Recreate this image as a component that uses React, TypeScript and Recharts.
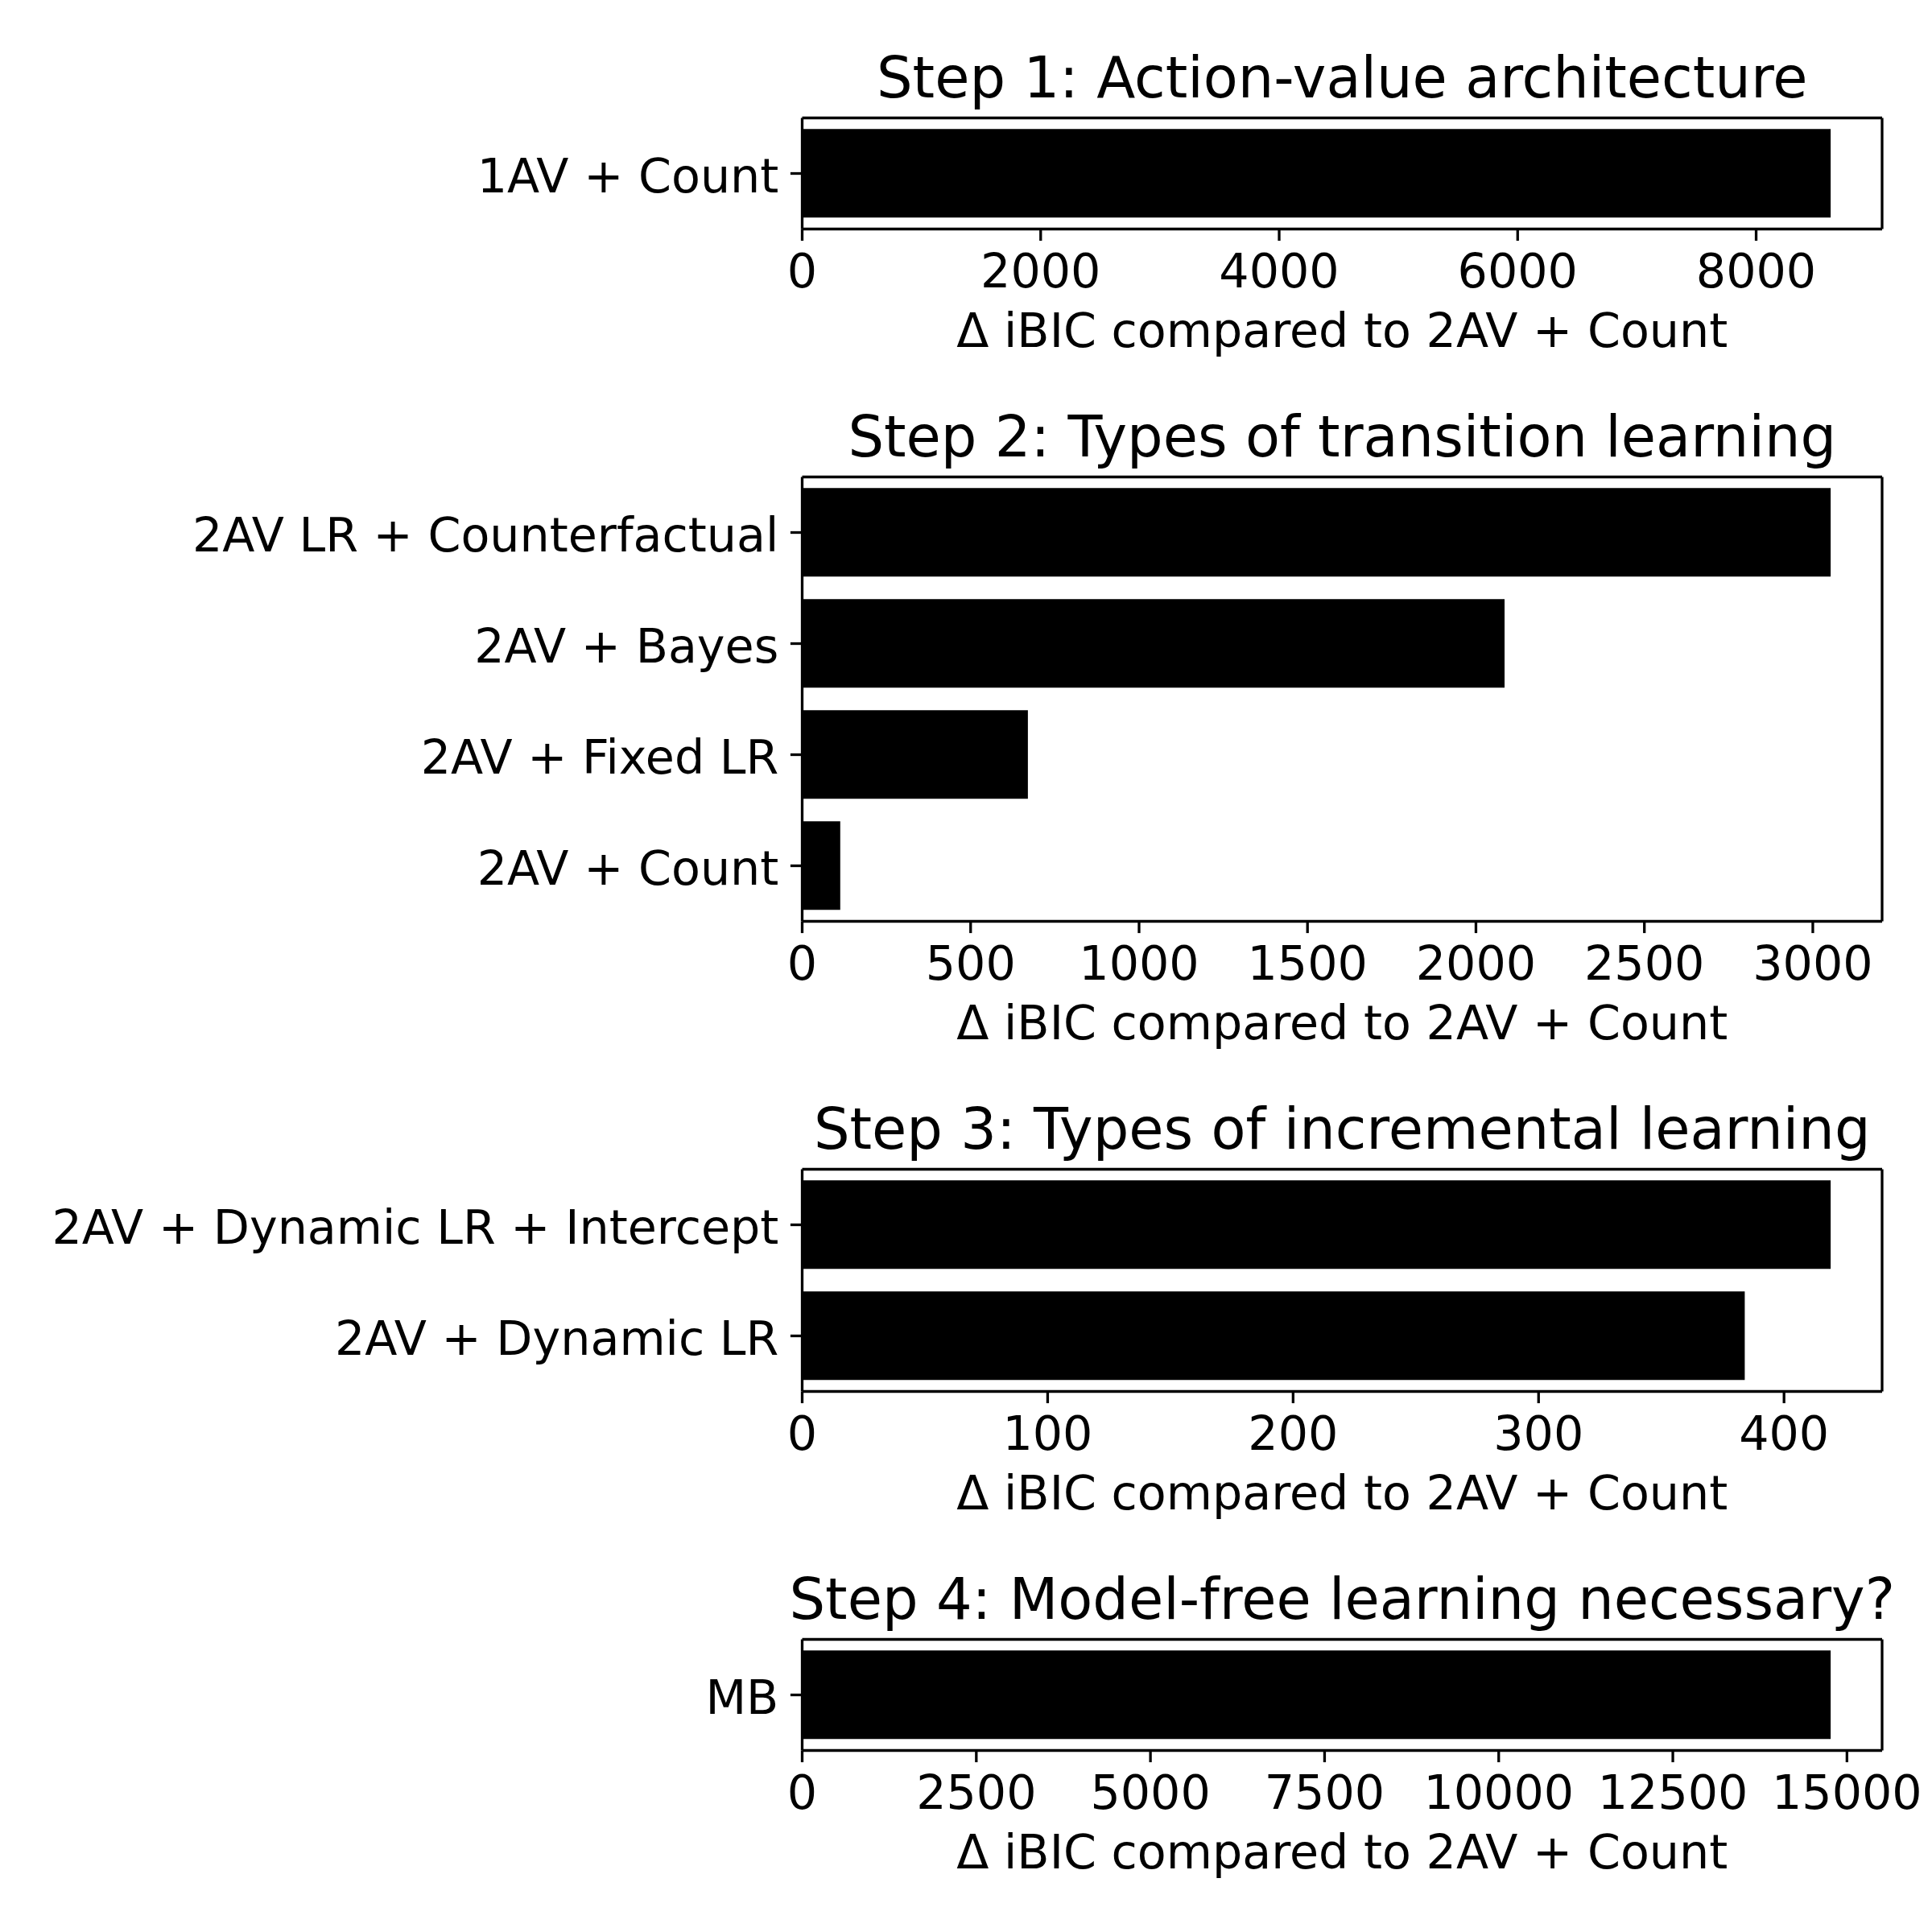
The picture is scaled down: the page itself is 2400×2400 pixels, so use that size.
import { Bar, BarChart, XAxis, YAxis } from "recharts"

const FONT = "'DejaVu Sans', sans-serif"
const X_LABEL = "Δ iBIC compared to 2AV + Count"

const step1Models = ["1AV + Count"]
const step1Values = [8625]
const step1Ticks = [0, 2000, 4000, 6000, 8000]

const step2Models = ["2AV LR + Counterfactual", "2AV + Bayes", "2AV + Fixed LR", "2AV + Count"]
const step2Values = [3053, 2085, 670, 113]
const step2Ticks = [0, 500, 1000, 1500, 2000, 2500, 3000]

const step3Models = ["2AV + Dynamic LR + Intercept", "2AV + Dynamic LR"]
const step3Values = [419, 384]
const step3Ticks = [0, 100, 200, 300, 400]

const step4Models = ["MB"]
const step4Values = [14766]
const step4Ticks = [0, 2500, 5000, 7500, 10000, 12500, 15000]

// layout (px)
const PAGE = 2400
const PLOT_LEFT = 996.5
const PLOT_RIGHT = 2338
const BAND = 138
const TOP_SPACE = 146.5
const XAXIS_H = 146.5
const LINE_W = 3.3
const TICK_LEN = 14.6
const FONT_SIZE = 58.7
const TITLE_SIZE = 70.3

const line = { stroke: "#000", strokeWidth: LINE_W }
const tickText = { fill: "#000", fontSize: FONT_SIZE, fontFamily: FONT }

type PanelProps = {
  title: string
  models: string[]
  values: number[]
  ticks: number[]
  plotTop: number
}

function Panel({ title, models, values, ticks, plotTop }: PanelProps) {
  const data = models.map((name, i) => ({ name, value: values[i] }))
  const domain = [0, Math.max(...values) * 1.05]
  const plotHeight = BAND * models.length
  const height = TOP_SPACE + plotHeight + XAXIS_H + 30

  return (
    <div style={{ position: "absolute", left: 0, top: plotTop - TOP_SPACE, width: PAGE, height }}>
      {/* title, centred on the plot area */}
      <div
        style={{
          position: "absolute",
          left: PLOT_LEFT - 400,
          width: PLOT_RIGHT - PLOT_LEFT + 800,
          top: TOP_SPACE - 25 - 59.4,
          textAlign: "center",
          whiteSpace: "nowrap",
          fontFamily: FONT,
          fontSize: TITLE_SIZE,
          lineHeight: `${TITLE_SIZE}px`,
          color: "#000",
        }}
      >
        {title}
      </div>
      <BarChart
        width={PAGE}
        height={height}
        data={data}
        layout="vertical"
        barCategoryGap="10%"
        margin={{ top: TOP_SPACE - 1, right: PAGE - PLOT_RIGHT - 1, bottom: 30, left: 0 }}
      >
        <XAxis
          type="number"
          domain={domain}
          ticks={ticks}
          interval={0}
          height={XAXIS_H}
          tickSize={TICK_LEN}
          tickMargin={16.7}
          axisLine={line}
          tickLine={line}
          tick={tickText}
          label={{ value: X_LABEL, position: "insideBottom", offset: 0, fill: "#000", fontSize: FONT_SIZE, fontFamily: FONT }}
        />
        <XAxis
          xAxisId="top"
          orientation="top"
          type="number"
          domain={domain}
          height={1}
          tick={false}
          tickLine={false}
          axisLine={line}
        />
        <YAxis
          type="category"
          dataKey="name"
          width={PLOT_LEFT}
          interval={0}
          tickSize={TICK_LEN}
          tickMargin={TICK_LEN}
          axisLine={line}
          tickLine={line}
          tick={{ ...tickText, dy: 2.3 }}
        />
        <YAxis
          yAxisId="right"
          orientation="right"
          type="category"
          dataKey="name"
          width={1}
          tick={false}
          tickLine={false}
          axisLine={line}
        />
        <Bar dataKey="value" fill="#000" isAnimationActive={false} />
      </BarChart>
    </div>
  )
}

export default function App() {
  return (
    <div style={{ position: "absolute", left: 0, top: 0, width: PAGE, height: PAGE, background: "#fff" }}>
      <Panel title="Step 1: Action-value architecture" models={step1Models} values={step1Values} ticks={step1Ticks} plotTop={146.5} />
      <Panel title="Step 2: Types of transition learning" models={step2Models} values={step2Values} ticks={step2Ticks} plotTop={592.5} />
      <Panel title="Step 3: Types of incremental learning" models={step3Models} values={step3Values} ticks={step3Ticks} plotTop={1452.7} />
      <Panel title="Step 4: Model-free learning necessary?" models={step4Models} values={step4Values} ticks={step4Ticks} plotTop={2036.7} />
    </div>
  )
}
